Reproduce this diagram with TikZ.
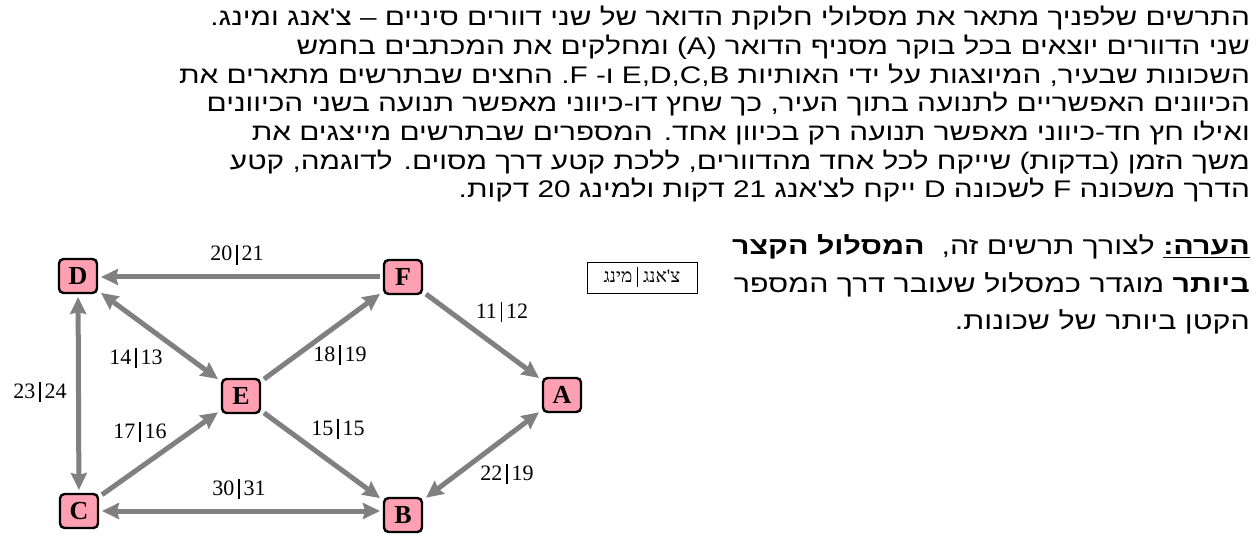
\documentclass[tikz,border=0pt]{standalone}
\usepackage{fontspec}
\setmainfont{Liberation Serif}
\newfontfamily\hebfont[Script=Hebrew,FakeStretch=1.24]{Liberation Sans}
\newfontfamily\hebserif[Script=Hebrew]{Liberation Serif}
\TeXXeTstate=1
\usetikzlibrary{
  arrows.meta,
  positioning
}
\definecolor{roadcolor}{RGB}{128, 128, 128}
\definecolor{hoodcolor}{RGB}{255, 160, 178}
\newcommand{\tpair}[2]{#1\hspace{4pt}\rule[-4pt]{1.2pt}{20pt}\hspace{4pt}#2}
\tikzset{
hoodbox/.style={
  draw=black,
  line width=2.4pt,
  rounded corners=4.5pt,
  fill=hoodcolor,
  minimum width=38pt,
  minimum height=34pt,
  inner sep=0pt,
  outer sep=4pt,
  font=\fontsize{26}{26}\selectfont\bfseries
},
timelabel/.style={
  inner sep=0pt,
  font=\fontsize{22}{22}\selectfont
},
paratext/.style={
  anchor=base east,
  inner sep=0pt,
  font=\hebfont\fontsize{24}{24}\selectfont
},
notetext/.style={
  paratext,
  font=\hebfont\fontsize{24.5}{24.5}\selectfont
},
legendbox/.style={
  draw=black,
  line width=0.8pt,
  minimum width=110pt,
  minimum height=31pt,
  inner sep=0pt,
  font=\hebserif\fontsize{19}{19}\selectfont
},
road/.style={
  line width=5pt,
  draw=roadcolor
},
oneway/.style={
  road,
  -{Stealth[length=17pt,width=16pt,inset=2pt]}
},
twoway/.style={
  road,
  {Stealth[length=17pt,width=16pt,inset=2pt]}-{Stealth[length=17pt,width=16pt,inset=2pt]}
}
}
\begin{document}
\begin{tikzpicture}[x=1pt,y=-1pt]
  \useasboundingbox (0,0) rectangle (1259,548);

  % text
  \node[paratext] (line1) at (1250,26) {\beginR התרשים שלפניך מתאר את מסלולי חלוקת הדואר של שני דוורים סיניים – צ'אנג ומינג.\endR};
  \node[paratext] (line2) at (1250,54.7) {\beginR שני הדוורים יוצאים בכל בוקר מסניף הדואר \beginL(A)\endL{} ומחלקים את המכתבים בחמש\endR};
  \node[paratext] (line3) at (1250,83.3) {\beginR השכונות שבעיר, המיוצגות על ידי האותיות \beginL E,D,C,B\endL{} ו- F\kern0pt. החצים שבתרשים מתארים את\endR};
  \node[paratext] (line4) at (1250,112) {\beginR הכיוונים האפשריים לתנועה בתוך העיר, כך שחץ דו-כיווני מאפשר תנועה בשני הכיוונים\endR};
  \node[paratext] (line5) at (1250,140.7) {\beginR ואילו חץ חד-כיווני מאפשר תנועה רק בכיוון אחד. המספרים שבתרשים מייצגים את\endR};
  \node[paratext] (line6) at (1250,169.3) {\beginR משך הזמן (בדקות) שייקח לכל אחד מהדוורים, ללכת קטע דרך מסוים. לדוגמה, קטע\endR};
  \node[paratext] (line7) at (1250,198) {\beginR הדרך משכונה F לשכונה D ייקח לצ'אנג 21 דקות ולמינג 20 דקות.\endR};

  % note
  \node[notetext] (note1) at (1250,255) {\beginR\underline{\bfseries הערה:} לצורך תרשים זה,\ \ {\bfseries המסלול הקצר}\endR};
  \node[notetext] (note2) at (1250,292) {\beginR{\bfseries ביותר} מוגדר כמסלול שעובר דרך המספר\endR};
  \node[notetext] (note3) at (1250,329) {\beginR הקטן ביותר של שכונות.\endR};
  \node[legendbox] (legend) at (642,277.5) {\beginR צ'אנג\hspace{5pt}\rule[-5pt]{0.8pt}{20pt}\hspace{5pt}מינג\endR};

  % neighbourhoods
  \node[hoodbox] (D) at (78,276) {D};
  \node[hoodbox] (F) at (403,277) {F};
  \node[hoodbox] (E) at (241,396) {E};
  \node[hoodbox] (A) at (562,395) {A};
  \node[hoodbox] (C) at (79,511) {C};
  \node[hoodbox] (B) at (403,515) {B};

  % roads
  \draw[oneway] (F.west) -- (F.west -| D.east);
  \draw[twoway] (D) -- (E);
  \draw[twoway] (D) -- (C);
  \draw[oneway] (E) -- (F);
  \draw[oneway] (F) -- (A);
  \draw[oneway] (C) -- (E);
  \draw[oneway] (E) -- (B);
  \draw[twoway] (C.east) -- (C.east -| B.west);
  \draw[twoway] (A) -- (B);

  % times
  \node[timelabel] (tFD) at (237,255) {\tpair{20}{21}};
  \node[timelabel] (tFA) at (502,312) {\tpair{11}{12}};
  \node[timelabel] (tDE) at (136,358) {\tpair{14}{13}};
  \node[timelabel] (tEF) at (340,355) {\tpair{18}{19}};
  \node[timelabel] (tDC) at (40,392) {\tpair{23}{24}};
  \node[timelabel] (tCE) at (140,432) {\tpair{17}{16}};
  \node[timelabel] (tEB) at (338,429) {\tpair{15}{15}};
  \node[timelabel] (tCB) at (239,489) {\tpair{30}{31}};
  \node[timelabel] (tAB) at (507,474) {\tpair{22}{19}};
\end{tikzpicture}
\end{document}
